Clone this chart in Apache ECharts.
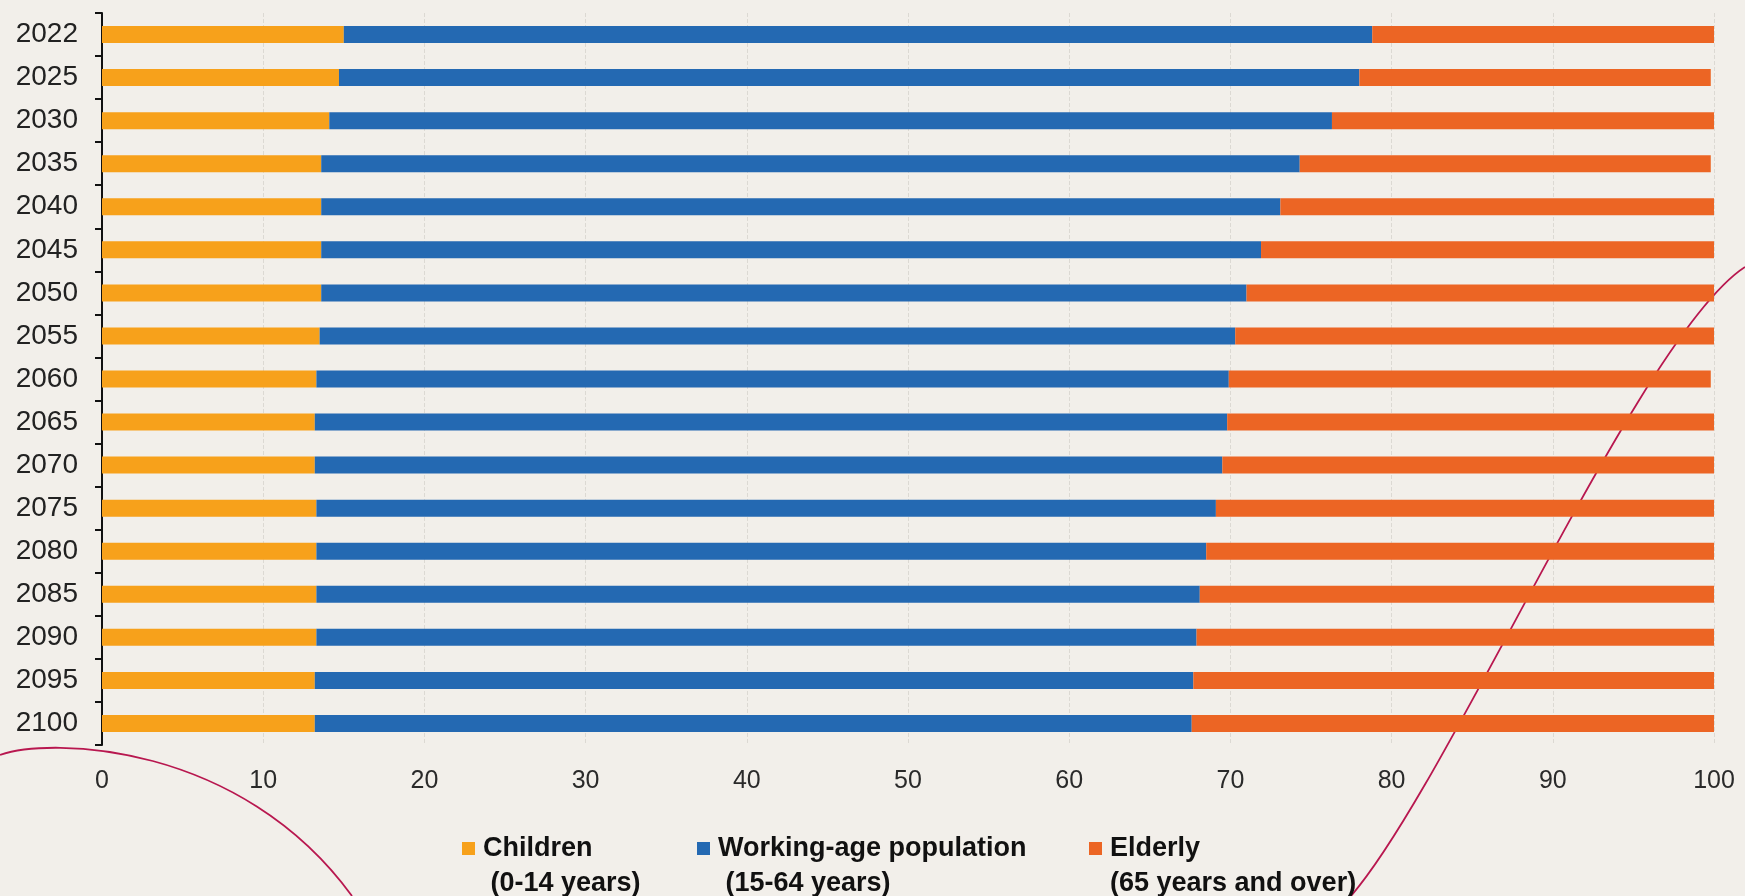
<!DOCTYPE html>
<html>
<head>
<meta charset="utf-8">
<script src="https://cdn.jsdelivr.net/npm/echarts@6/dist/echarts.min.js"></script>
<style>
html,body{margin:0;padding:0;background:#F2EFEA;}
#chart{width:1745px;height:896px;}
</style>
</head>
<body>
<div id="chart"></div>
<script>
const years = ['2022','2025','2030','2035','2040','2045','2050','2055','2060','2065','2070','2075','2080','2085','2090','2095','2100'];
const children = [15.0,14.7,14.1,13.6,13.6,13.6,13.6,13.5,13.3,13.2,13.2,13.3,13.3,13.3,13.3,13.2,13.2];
const working  = [63.8,63.3,62.2,60.7,59.5,58.3,57.4,56.8,56.6,56.6,56.3,55.8,55.2,54.8,54.6,54.5,54.4];
const elderly  = [21.2,21.8,23.7,25.5,26.9,28.1,29.0,29.7,29.9,30.2,30.5,30.9,31.5,31.9,32.1,32.3,32.4];
const xTicks = { min: 0, max: 100, interval: 10 };
const seriesNames = ['Children', 'Working-age population', 'Elderly'];
const seriesSub = [' (0-14 years)', ' (15-64 years)', '(65 years and over)'];

const colors = ['#F7A11B', '#2469B2', '#EC6524'];
const font = '"Liberation Sans", Arial, sans-serif';

const chart = echarts.init(document.getElementById('chart'));

function legendFor(i, left) {
  return {
    data: [seriesNames[i]],
    left: left,
    top: 796,
    padding: 0,
    icon: 'rect',
    itemWidth: 13,
    itemHeight: 13,
    itemGap: 0,
    selectedMode: false,
    formatter: function (n) { return '\n' + n + '\n' + seriesSub[i]; },
    textStyle: { fontFamily: font, fontSize: 27, fontWeight: 'bold', color: '#111', lineHeight: 35, padding: [0, 0, 0, 3] }
  };
}

const data = [children, working, elderly];

chart.setOption({
  backgroundColor: '#F2EFEA',
  animation: false,
  grid: { left: 102, right: 31, top: 13, bottom: 151, containLabel: false },
  legend: [legendFor(0, 462), legendFor(1, 697), legendFor(2, 1089)],
  xAxis: {
    type: 'value',
    min: xTicks.min, max: xTicks.max, interval: xTicks.interval,
    axisLine: { show: false },
    axisTick: { show: false },
    axisLabel: { fontFamily: font, fontSize: 25, color: '#2a2a2a', margin: 24 },
    splitLine: { show: true, lineStyle: { color: '#dcd9d3', type: 'dashed', width: 1 } }
  },
  yAxis: {
    type: 'category',
    inverse: true,
    data: years,
    axisLine: { show: true, lineStyle: { color: '#111', width: 2 } },
    axisTick: { show: true, length: 7, lineStyle: { color: '#111', width: 2 } },
    axisLabel: { fontFamily: font, fontSize: 28, color: '#222', margin: 24 },
    splitLine: { show: false }
  },
  graphic: [
    {
      type: 'bezierCurve', z: 1, silent: true,
      shape: { x1: 0, y1: 755, cpx1: 50, cpy1: 737, cpx2: 240, cpy2: 742, x2: 352, y2: 896 },
      style: { stroke: '#B8174F', lineWidth: 1.8, fill: null }
    },
    {
      type: 'bezierCurve', z: 1, silent: true,
      shape: { x1: 1351, y1: 896, cpx1: 1451, cpy1: 780, cpx2: 1640, cpy2: 335, x2: 1745, y2: 267 },
      style: { stroke: '#B8174F', lineWidth: 1.8, fill: null }
    }
  ],
  series: seriesNames.map(function (name, i) {
    return {
      name: name,
      type: 'bar',
      stack: 'total',
      barWidth: 17,
      itemStyle: { color: colors[i] },
      data: data[i],
      z: 3
    };
  })
});
</script>
</body>
</html>
